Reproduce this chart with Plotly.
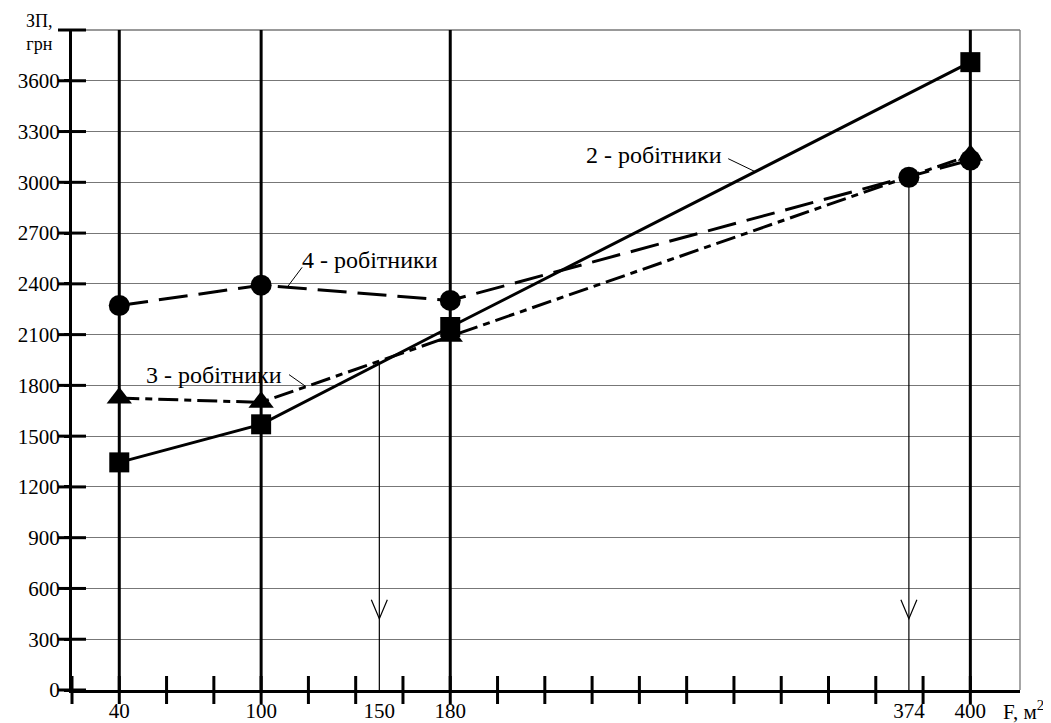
import plotly.graph_objects as go
import numpy as np

# ---- data ----
area = [40, 100, 180, 400]                 # F, m^2
wage_2 = [1345, 1570, 2145, 3710]          # 2 workers
wage_3 = [1725, 1700, 2090, 3160]          # 3 workers
wage_4 = [2272, 2392, 2302, 3132]          # 4 workers
cross_x = [150, 374]                       # break-even areas
cross_y = [1940, 3030]
x_minor_ticks = list(range(20, 401, 20))
x_tick_labels = [40, 100, 150, 180, 374, 400]
y_ticks = list(range(0, 3901, 300))
y_tick_labels = y_ticks[:-1]

FONT = "Liberation Serif, Times New Roman, DejaVu Serif, serif"
BLACK = "black"
GRID = "#777777"

fig = go.Figure()

# thick vertical reference lines at the studied areas
vx, vy = [], []
for a in area:
    vx += [a, a, None]
    vy += [0, y_ticks[-1], None]
fig.add_trace(go.Scatter(x=vx, y=vy, mode="lines", line=dict(color=BLACK, width=3),
                         hoverinfo="skip"))

# thin projection lines from intersections down to the x axis
tx, ty = [], []
for cx, cy in zip(cross_x, cross_y):
    tx += [cx, cx, None]
    ty += [cy, 0, None]
fig.add_trace(go.Scatter(x=tx, y=ty, mode="lines", line=dict(color=BLACK, width=1.2),
                         hoverinfo="skip"))

# series
fig.add_trace(go.Scatter(x=area, y=wage_4, mode="lines+markers",
                         line=dict(color=BLACK, width=3, dash="29px,11px"),
                         marker=dict(symbol="circle", size=21, color=BLACK)))
fig.add_trace(go.Scatter(x=area, y=wage_3, mode="lines+markers",
                         line=dict(color=BLACK, width=3, dash="20px,6px,7px,6px"),
                         marker=dict(symbol="triangle-up", size=22, color=BLACK)))
fig.add_trace(go.Scatter(x=area, y=wage_2, mode="lines+markers",
                         line=dict(color=BLACK, width=3),
                         marker=dict(symbol="square", size=20, color=BLACK)))
# intersection marker (3 & 4 workers)
fig.add_trace(go.Scatter(x=cross_x[1:], y=cross_y[1:], mode="markers",
                         marker=dict(symbol="circle", size=21, color=BLACK)))

# crossing tick marks on both axes
fig.add_trace(go.Scatter(x=x_minor_ticks, y=[0] * len(x_minor_ticks), mode="markers",
                         marker=dict(symbol="line-ns", size=20,
                                     line=dict(width=3, color=BLACK)),
                         cliponaxis=False, hoverinfo="skip"))
fig.add_trace(go.Scatter(x=[x_minor_ticks[0]] * len(y_ticks), y=y_ticks, mode="markers",
                         marker=dict(symbol="line-ew", size=20,
                                     line=dict(width=3, color=BLACK)),
                         cliponaxis=False, hoverinfo="skip"))

# open arrowheads on the projection lines
for cx in cross_x:
    fig.add_shape(type="path", xref="x", yref="paper", xsizemode="pixel", ysizemode="pixel",
                  xanchor=cx, yanchor=0.108, path="M-8,19 L0,0 L8,19",
                  line=dict(color=BLACK, width=1.2))

# labels with leader lines
def label(text, series, xv, dx, dy, xshift, yshift, anchor):
    yv = float(np.interp(xv, area, series))
    fig.add_shape(type="line", xref="x", yref="y", xsizemode="pixel", ysizemode="pixel",
                  xanchor=xv, yanchor=yv, x0=0, y0=0, x1=dx, y1=dy,
                  line=dict(color=BLACK, width=1))
    fig.add_annotation(x=xv, y=yv, xref="x", yref="y", text=text, showarrow=False,
                       xanchor=anchor, yanchor="middle", xshift=xshift, yshift=yshift,
                       font=dict(family=FONT, size=24, color=BLACK))

label("4 - робітники", wage_4, 111, 15, 20, 13, 27, "left")
label("3 - робітники", wage_3, 119, -17, 12, -22, 12, "right")
label("2 - робітники", wage_2, 309, -27, 13, -31, 17, "right")

# axis titles
fig.add_annotation(x=0, y=1, xref="paper", yref="paper", text="ЗП,<br>грн", showarrow=False,
                   xanchor="right", yanchor="middle", xshift=-17, yshift=-2,
                   font=dict(family=FONT, size=18, color=BLACK))
fig.add_annotation(x=1, y=0, xref="paper", yref="paper", text="F, м<sup>2</sup>",
                   showarrow=False, xanchor="left", yanchor="middle", xshift=-19, yshift=-20,
                   font=dict(family=FONT, size=21, color=BLACK))

# top and right frame lines
fig.add_shape(type="line", xref="paper", yref="paper", x0=1, x1=1, y0=0, y1=1,
              line=dict(color=GRID, width=1.3), layer="below")
fig.add_shape(type="line", xref="paper", yref="paper", x0=0, x1=1, y0=1, y1=1,
              line=dict(color=GRID, width=1.3), layer="below")

# the page body adds an 8px offset, so the figure is sized to fit inside the window
fig.update_layout(
    template="none",
    width=1043, height=715,
    margin=dict(l=64, r=31, t=22, b=33, autoexpand=False),
    paper_bgcolor="white", plot_bgcolor="white",
    showlegend=False, hovermode=False,
    font=dict(family=FONT, size=21, color=BLACK),
    xaxis=dict(range=[20, 421], tickmode="array", tickvals=x_tick_labels,
               ticktext=[str(v) for v in x_tick_labels],
               ticks="outside", ticklen=0, tickcolor="rgba(0,0,0,0)",
               showgrid=False, zeroline=False, automargin=False,
               showline=True, linecolor=BLACK, linewidth=3),
    yaxis=dict(range=[0, 3900], tickmode="array", tickvals=y_tick_labels,
               ticktext=[str(v) for v in y_tick_labels],
               ticks="outside", ticklen=5, tickwidth=3, tickcolor=BLACK,
               showgrid=True, gridcolor=GRID, gridwidth=1.3, zeroline=False,
               automargin=False,
               showline=True, linecolor=BLACK, linewidth=3),
)

fig.write_html("out.html")
